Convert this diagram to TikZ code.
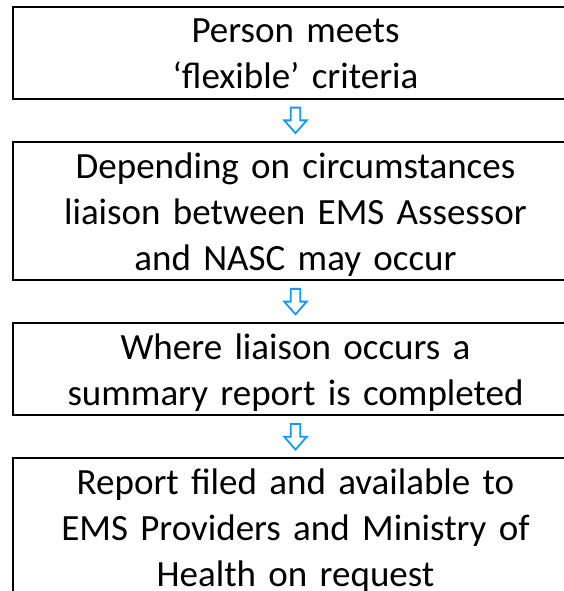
\documentclass[tikz,border=0pt]{standalone}
\usepackage{fontspec}
\setmainfont{Carlito}
\usetikzlibrary{positioning,calc}
\definecolor{arrowblue}{RGB}{17,153,255}
\tikzset{
  stepbox/.style={draw, line width=2pt, outer sep=0pt, inner sep=0pt, minimum width=566pt,
    text width=540pt, align=center, font=\fontsize{37pt}{46pt}\selectfont,
    text height=36pt, text depth=56pt},
  tallbox/.style={stepbox, text depth=102pt},
  downarrow/.pic={
    \draw[arrowblue, line width=1.8pt, line join=miter, fill=white]
      (-4.75,12.75) -- (4.75,12.75) -- (4.75,0) -- (11.25,0) -- (0,-12.75)
      -- (-11.25,0) -- (-4.75,0) -- cycle;
  }
}

\begin{document}
\begin{tikzpicture}[x=1pt,y=1pt]
	%%%%% START %%%%%
	
	\useasboundingbox (0,0) rectangle (564,-591);
	\clip (0,0) rectangle (564,-591);
	
	\node[stepbox, anchor=north] (person) at (295.5,-6.8) {Person meets\\‘flexible’ criteria};
	\node[tallbox, below=43.2pt of person] (liaison) {Depending on circumstances\\liaison between EMS Assessor\\and NASC may occur};
	\node[stepbox, below=43.2pt of liaison] (summary) {Where liaison occurs a\\summary report is completed};
	\node[tallbox, below=43.2pt of summary] (filed) {Report filed and available to\\EMS Providers and Ministry of\\Health on request};
	
	\foreach \a/\b [count=\i] in {person/liaison, liaison/summary, summary/filed}
		\pic (arrow\i) at ($(\a.south)!0.5!(\b.north)$) {downarrow};
	
	%%%%% END %%%%%
\end{tikzpicture}
\end{document}
